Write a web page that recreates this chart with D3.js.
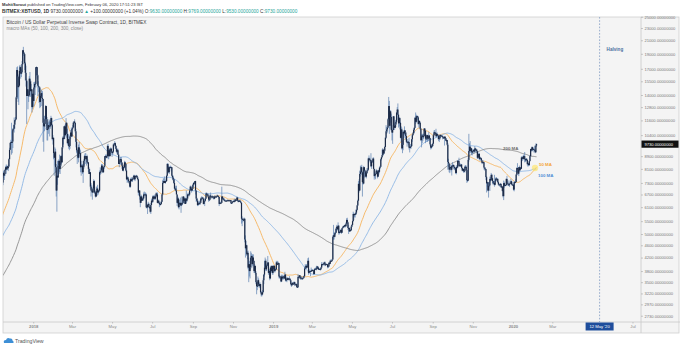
<!DOCTYPE html>
<html>
<head>
<meta charset="utf-8">
<script src="https://cdn.jsdelivr.net/npm/d3@7/dist/d3.min.js"></script>
<style>
  html, body { margin: 0; padding: 0; background: #ffffff; }
  svg { display: block; font-family: "Liberation Sans", Arial, sans-serif; }
</style>
</head>
<body>
<svg id="chart" width="680" height="346"></svg>
<script>
// BITMEX:XBTUSD daily closes, one per day starting 2017-05-01 (the earlier part seeds the moving averages)
const closeStart = Date.UTC(2017, 4, 1);
const closes = [
  // 2017 May
  1420,1450,1490,1520,1540,1570,1560,1700,1720,1760,1820,1690,1760,1780,1720,1740,1800,1890,1980,2050,2040,2150,2280,2440,2360,2140,2050,2190,2270,2200,2330,
  // Jun
  2420,2490,2520,2530,2700,2860,2690,2790,2810,2900,2970,2650,2710,2430,2440,2500,2650,2520,2590,2730,2640,2700,2700,2590,2580,2450,2560,2560,2540,2480,
  // Jul
  2430,2510,2570,2600,2600,2590,2500,2560,2500,2360,2330,2400,2360,2220,1930,1930,2230,2320,2270,2850,2670,2810,2740,2760,2580,2540,2700,2800,2700,2760,2870,
  // Aug
  2720,2710,2800,2880,3260,3220,3380,3420,3340,3420,3650,3860,4060,4330,4160,4380,4280,4110,4190,4090,4000,4090,4150,4330,4370,4350,4350,4380,4580,4580,4770,
  // Sep
  4950,4580,4600,4230,4380,4600,4600,4230,4230,4230,4160,4160,3880,3240,3700,3700,3690,4080,3900,3880,3630,3610,3790,3670,3930,3880,4210,4190,4170,4340,
  // Oct
  4400,4410,4310,4220,4320,4370,4430,4610,4780,4780,4830,5440,5640,5830,5690,5760,5600,5570,5710,6000,6010,5980,5900,5520,5750,5900,5780,5750,6150,6130,6470,
  // Nov
  6750,7030,7160,7380,7410,6990,7140,7460,7140,6620,6360,5950,6560,6630,7320,7870,7710,7790,8040,8200,8070,8250,8140,8250,8700,9330,9820,9890,9820,9920,
  // Dec
  10860,10910,11240,11620,11680,13750,16850,16050,14840,15000,16730,17200,16400,16570,17600,19500,19150,18950,17700,16500,15600,13900,14600,13900,13950,15800,15500,14400,14600,12800,14100,
  // 2018 Jan
  13400,14800,15200,15200,17200,17200,16200,15000,14900,14800,13300,13900,14200,13700,13600,11400,11100,11300,11700,12900,11700,10800,10900,11200,11100,11100,11500,11800,11200,10100,10200,
  // Feb
  9100,8800,9200,8200,6900,7700,7600,8300,8600,8100,8300,8900,8500,9500,10200,10100,11100,10400,11100,11400,10500,9800,10100,9600,9600,10300,10600,10300,
  // Mar
  10900,11000,11400,11500,11400,10700,9900,9300,9200,8800,9500,9100,9100,8200,8300,8300,7900,8200,8600,8900,8900,8700,8900,8500,8500,8100,7800,7900,7100,6900,6900,
  // Apr
  6800,7000,7400,6800,6800,6600,6900,7000,6800,6900,6900,7900,7900,8000,8300,8100,7900,8200,8300,8900,8900,8800,8900,9600,8900,9300,8900,9400,9400,9200,
  // May
  9100,9200,9700,9700,9800,9600,9400,9200,9300,9000,8400,8500,8700,8700,8500,8300,8000,8200,8200,8500,8400,8000,7500,7600,7500,7400,7300,7100,7500,7400,7500,
  // Jun
  7500,7600,7700,7500,7600,7700,7700,7600,7500,6800,6900,6600,6300,6600,6400,6500,6500,6700,6700,6700,6700,6100,6100,6200,6250,6100,6100,5900,6200,6400,
  // Jul
  6350,6600,6500,6600,6500,6600,6750,6700,6300,6400,6300,6250,6200,6250,6350,6700,7300,7400,7400,7300,7400,7400,7700,8400,8200,7900,8200,8200,8200,8200,7700,
  // Aug
  7600,7500,7300,7000,7000,6900,6700,6300,6500,6100,6300,6300,6200,6200,6300,6300,6600,6400,6500,6250,6500,6400,6500,6700,6700,6700,6900,7100,7000,6900,7000,
  // Sep
  7200,7300,7300,7400,6900,6500,6400,6200,6250,6300,6300,6300,6500,6500,6550,6500,6250,6350,6400,6500,6750,6700,6700,6600,6450,6450,6650,6600,6600,6600,
  // Oct
  6600,6550,6500,6600,6600,6580,6600,6650,6620,6580,6250,6300,6300,6300,6600,6500,6500,6450,6400,6400,6400,6400,6400,6420,6400,6400,6420,6420,6280,6290,6330,
  // Nov
  6380,6370,6350,6450,6400,6450,6550,6400,6350,6400,6400,6350,6300,5600,5600,5550,5550,5600,4800,4500,4600,4300,4350,3900,4000,3800,3900,4200,4250,4000,
  // Dec
  4200,4100,3800,3950,3750,3500,3400,3400,3550,3450,3400,3450,3250,3200,3200,3250,3550,3700,3900,4100,3850,3950,3970,4050,3750,3800,3600,3900,3800,3950,3750,
  // 2019 Jan
  3850,3950,3800,3850,3850,4050,4000,4000,4030,3650,3650,3630,3520,3650,3600,3630,3650,3600,3700,3550,3560,3600,3560,3600,3580,3590,3550,3450,3420,3480,3450,
  // Feb
  3460,3500,3440,3440,3450,3380,3370,3640,3640,3680,3600,3620,3600,3580,3600,3620,3660,3870,3900,3950,3900,3950,4100,3750,3800,3790,3800,3800,
  // Mar
  3830,3830,3800,3720,3850,3860,3870,3860,3930,3900,3850,3860,3850,3850,3900,4000,3980,4000,4020,4050,3970,3990,4000,3990,3920,3930,4040,4010,4100,4100,4100,
  // Apr
  4140,4900,4950,4900,5030,5050,5200,5280,5180,5320,5040,5080,5080,5150,5050,5220,5250,5300,5290,5340,5300,5400,5550,5450,5230,5230,5100,5150,5140,5280,
  // May
  5350,5500,5800,5750,5800,5780,5860,5980,6180,6400,7250,6900,7800,7950,8200,7900,7350,7270,8200,8000,7950,7650,7850,8000,8050,8750,8740,8660,8650,8260,8550,
  // Jun
  8550,8740,8100,7680,7800,7800,8000,7930,7650,8000,7930,8170,8230,8700,8830,8970,9340,9080,9270,9530,10200,10700,10850,11000,11700,12900,11150,12400,11900,10800,
  // Jul
  10600,10800,11950,11150,10980,11250,11480,12300,12570,12100,11350,11800,11380,10200,10850,9430,9680,10650,10530,10770,10600,10330,9900,9850,9900,9880,9480,9530,9520,9590,10090,
  // Aug
  10400,10530,10820,10980,11820,11480,11960,11960,11860,11300,11550,11400,10900,10020,10300,10370,10240,10320,10920,10760,10130,10130,10400,10140,10130,10370,10180,9720,9480,9580,9600,
  // Sep
  9760,10390,10620,10580,10580,10320,10480,10400,10330,10110,10150,10410,10360,10360,10310,10270,10190,10170,10280,10170,9980,10030,9690,8530,8430,8060,8190,8210,8050,8290,
  // Oct
  8300,8340,8230,8160,8150,7860,8210,8200,8590,8580,8270,8310,8280,8360,8160,8000,8090,7960,7970,8230,8220,8030,7450,7430,8660,9250,9550,9260,9430,9190,9150,
  // Nov
  9250,9310,9210,9420,9330,9340,9230,8800,8820,9050,8720,8800,8760,8630,8470,8500,8510,8180,8120,8090,7620,7280,7330,6900,7130,7170,7520,7440,7750,7560,
  // Dec
  7400,7300,7300,7200,7400,7540,7500,7520,7340,7220,7210,7200,7250,7070,7110,6880,6620,7290,7150,7190,7190,7520,7320,7260,7200,7200,7250,7310,7390,7220,7190,
  // 2020 Jan
  7200,6950,7340,7350,7350,7760,8150,8060,7820,8200,8020,8180,8110,8810,8820,8720,8900,8900,8700,8630,8720,8660,8390,8430,8330,8580,8900,9380,9290,9510,9350,
  // Feb
  9380,9330,9290,9160,9630,9730
];

// Daily highs and lows for the drawn candles (2017-11-10 .. 2020-02-06)
const highs = [
  7330,6880,6540,6740,6720,7330,7980,8000,7850,8110,8280,8370,8300,8260,8360,8760,9470,9850,10050,11400,10700,
  10950,11200,11850,11650,11900,13850,17200,17300,16300,15800,17400,17500,17300,16950,18000,19550,20000,19250,19000,17900,17400,15800,15500,14600,14400,16100,16600,15600,15200,14600,14200,
  14200,15400,15400,15500,17200,17300,17200,16300,15500,14900,14900,14100,14600,14500,14400,13600,11800,12000,12000,13000,12900,11900,11400,11500,11700,11600,11650,12000,11850,11300,10400,
  10200,9100,9500,9400,8400,7900,8600,8600,8700,9000,8500,8950,8950,9500,10300,10300,11100,11200,11300,11800,11400,10900,10400,10500,9800,10400,10800,11000,
  11000,11200,11500,11500,11700,11400,10900,10100,9400,9500,9700,9900,9400,9300,8400,8600,8400,8300,8700,9000,9100,9100,8900,9000,8700,8500,8200,8100,7900,7300,7200,
  7000,7100,7500,7450,6900,6850,7100,7100,7200,6900,6950,8000,8200,8150,8400,8400,8200,8200,8300,8900,9000,9000,9000,9700,9750,9300,9400,9450,9500,9450,
  9200,9250,9800,9750,9950,9850,9650,9450,9400,9400,9050,8600,8750,8850,8850,8500,8450,8250,8350,8600,8550,8450,8050,7700,7650,7600,7400,7400,7550,7600,7600,
  7550,7650,7750,7750,7650,7700,7750,7700,7650,7500,6900,6900,6600,6700,6650,6550,6600,6800,6850,6800,6800,6750,6200,6250,6350,6300,6170,6150,6300,6500,
  6450,6650,6650,6650,6700,6650,6800,6800,6800,6450,6450,6350,6350,6300,6400,6750,7450,7550,7550,7650,7450,7550,7750,8450,8450,8300,8250,8250,8300,8250,8200,
  7750,7700,7550,7500,7100,7150,7150,6700,6600,6550,6450,6450,6550,6250,6600,6450,6600,6600,6550,6550,6500,6900,6550,6750,6800,6750,6950,7150,7150,7050,7100,
  7250,7330,7350,7400,7420,6900,6550,6500,6400,6350,6400,6350,6550,6600,6600,6550,6550,6400,6500,6550,6800,6800,6750,6750,6600,6550,6700,6800,6620,6650,
  6650,6620,6560,6650,6650,6620,6620,6700,6660,6620,6580,6330,6330,6400,7100,6600,6550,6550,6450,6420,6450,6430,6420,6460,6440,6430,6440,6430,6430,6300,6350,
  6400,6450,6390,6500,6460,6470,6600,6560,6420,6420,6420,6420,6370,6300,5700,5600,5600,5650,5600,4950,4750,4620,4400,4420,4200,4100,3900,4400,4350,4300,
  4300,4300,4100,4000,3950,3800,3550,3500,3650,3600,3480,3500,3460,3280,3230,3300,3600,3720,4100,4200,4150,4000,4050,4250,4050,3850,3850,3950,3950,3950,3950,
  3880,3970,3960,3870,3900,4100,4080,4100,4070,4040,3700,3670,3650,3700,3680,3700,3670,3660,3780,3720,3580,3640,3620,3620,3600,3660,3600,3560,3460,3500,3500,
  3490,3520,3510,3460,3470,3460,3400,3720,3660,3690,3690,3640,3660,3610,3630,3650,3680,3930,4000,3980,4000,3980,4180,4200,3850,3820,3820,3900,
  3860,3850,3840,3820,3880,3890,3900,3950,3950,3940,3920,3880,3880,3890,3920,4060,4010,4050,4040,4070,4080,4010,4020,4010,4000,3950,4060,4050,4130,4140,4120,
  4160,4950,5350,5050,5080,5200,5250,5350,5290,5450,5330,5100,5120,5180,5180,5240,5280,5320,5330,5360,5350,5450,5620,5640,5480,5350,5250,5200,5190,5320,
  5380,5520,5900,5850,5820,5800,5990,6000,6200,6450,7400,7500,8000,8300,8250,8350,7950,7450,8280,8200,8050,8000,7900,8150,8150,8800,8950,8800,8700,9100,8600,
  8630,8800,8820,8110,7900,7870,8100,8030,7950,8050,8020,8230,8290,8750,8850,9350,9450,9350,9300,9580,10250,11200,11050,11100,11800,13800,13400,12500,12500,12200,
  11200,10900,11950,12000,11400,11650,11600,12320,12800,13150,12150,11900,11850,11450,11100,11000,9980,10750,10750,11100,10800,10650,10350,9950,10100,9950,10200,9600,9720,9750,10100,
  10500,10650,10920,11050,11900,12300,12100,12050,12000,11950,11600,11600,11450,10950,10450,10500,10500,10500,10950,10950,10780,10250,10450,10420,10350,10650,10380,10200,9730,9680,9700,
  9820,10450,10770,10800,10650,10900,10550,10600,10480,10390,10250,10460,10450,10420,10380,10370,10290,10280,10300,10300,10180,10080,10040,9800,8730,8470,8280,8330,8220,8340,
  8520,8380,8350,8240,8200,8180,8320,8300,8650,8650,8800,8440,8420,8400,8400,8170,8130,8120,8100,8300,8330,8300,8050,7500,8800,10500,9800,9950,9550,9450,9400,
  9300,9380,9380,9580,9470,9430,9380,9250,8900,9150,9100,8880,8830,8780,8670,8530,8620,8520,8190,8200,8100,7680,7370,7350,7350,7350,7650,7620,7860,7800,
  7560,7420,7400,7750,7480,7600,7620,7560,7550,7380,7270,7250,7300,7260,7160,7120,6900,7430,7370,7220,7200,7550,7690,7430,7280,7440,7280,7370,7520,7420,7330,
  7250,7220,7400,7400,7500,7800,8200,8450,8060,8200,8300,8190,8190,8880,8900,8850,9000,8990,9180,8740,8770,8780,8670,8500,8440,8600,8970,9400,9430,9560,9540,
  9450,9480,9620,9350,9780,9769
];
const lows = [
  6580,6180,5610,5840,6440,6620,7180,7570,7460,7680,7980,7810,8060,8040,7970,8200,8700,9330,9700,9000,9100,
  9450,10700,10600,10900,11500,11680,13750,13600,13300,13000,15000,16300,15800,16000,16400,17500,18700,17950,16850,15600,14900,11300,13900,12600,13300,13800,15000,13800,13950,12300,12600,
  12800,12900,14600,14000,14800,16200,15800,13900,14300,13200,12700,12800,13900,12900,13400,9900,9200,10700,11000,11600,11100,10000,10000,10500,10900,10300,10900,11400,11100,10000,9700,
  8700,7700,8300,7900,6600,5900,7200,7600,7800,7900,7800,8200,8400,8500,9400,9700,10100,10100,10300,11000,10200,9700,9600,9400,9300,9400,10100,10300,
  10250,10800,11000,11000,11300,10600,9500,9100,8400,8700,8500,8800,8900,7900,7700,7900,7800,7300,8100,8300,8800,8400,8300,8500,8400,7900,7800,7800,7000,6600,6800,
  6450,6800,7000,6750,6600,6550,6600,6900,6650,6700,6800,6850,7750,7800,8000,7900,7850,7900,8100,8200,8600,8750,8800,8900,8700,8700,8900,8900,9200,9100,
  8850,9000,9150,9550,9700,9400,9200,9100,9000,9000,8400,8200,8400,8350,8450,8100,8000,7950,8100,8150,8350,7950,7450,7300,7350,7350,7250,7050,7050,7350,7400,
  7350,7450,7600,7450,7400,7550,7650,7550,7450,6650,6700,6450,6100,6300,6400,6400,6450,6400,6650,6550,6650,6050,6050,5800,6150,6080,6020,5850,5800,6200,
  6300,6300,6480,6450,6450,6450,6550,6650,6300,6250,6300,6100,6150,6200,6250,6330,6650,7250,7300,7300,7250,7350,7400,7700,8100,7850,7800,8100,8150,7950,7650,
  7450,7450,7250,6950,6900,6850,6700,6150,6250,6050,6000,6200,6150,5850,6150,6200,6250,6300,6300,6250,6250,6300,6350,6450,6650,6600,6650,6900,6950,6800,6900,
  6980,7100,7200,7250,6700,6350,6350,6150,6150,6220,6200,6200,6300,6400,6500,6450,6220,6250,6150,6380,6480,6650,6650,6550,6350,6400,6420,6550,6500,6550,
  6520,6480,6450,6480,6550,6540,6550,6580,6580,6500,6150,6230,6280,6280,6300,6450,6450,6400,6380,6380,6390,6380,6380,6400,6390,6380,6400,6400,6250,6260,6270,
  6320,6360,6330,6340,6380,6390,6440,6380,6320,6340,6350,6330,6270,5400,5300,5450,5500,5530,4700,4200,4450,4250,4150,3850,3500,3650,3600,3850,4100,3900,
  3950,4050,3750,3750,3700,3450,3200,3300,3380,3400,3350,3380,3230,3150,3150,3180,3240,3450,3650,3850,3800,3800,3900,3950,3700,3700,3550,3580,3780,3750,3700,
  3700,3820,3770,3760,3820,3830,3980,3970,3980,3600,3600,3580,3500,3510,3560,3590,3570,3580,3600,3520,3520,3500,3550,3550,3550,3570,3520,3420,3380,3410,3430,
  3430,3450,3400,3420,3430,3360,3360,3360,3610,3620,3590,3560,3580,3560,3570,3600,3600,3650,3850,3870,3860,3900,3930,3700,3730,3760,3660,3780,
  3790,3800,3780,3690,3710,3830,3840,3820,3850,3870,3830,3830,3830,3820,3840,3890,3960,3950,3980,4000,3940,3960,3980,3970,3880,3900,3920,3990,4000,4080,4080,
  4080,4130,4800,4800,4880,4980,5040,5150,5130,5160,4980,4990,5050,5050,5000,5040,5200,5240,5230,5280,5250,5270,5380,5400,5150,5000,5080,5080,5100,5130,
  5260,5340,5480,5550,5660,5650,5760,5800,5950,6150,6380,6800,6900,7650,7850,7750,6600,7200,7250,7600,7800,7600,7550,7800,7950,8000,8600,8550,8450,8200,8100,
  8490,8530,8100,7480,7580,7500,7780,7850,7550,7620,7760,7850,8100,8210,8620,8800,8960,8950,9040,9220,9520,10100,10500,10600,10950,11650,10500,10900,11400,10700,
  10000,9750,10800,11050,10800,10950,11050,11350,12100,11650,11000,11100,10850,10150,9900,9350,9100,9300,10150,10400,10200,10050,9830,9550,9750,9650,9350,9150,9420,9400,9570,
  9900,10350,10500,10580,10950,11300,11400,11500,11650,11200,11000,11250,10800,9950,9500,9800,9950,10100,10300,10600,9800,9900,10050,9900,9950,10110,10050,9620,9350,9400,9480,
  9560,9750,10280,10400,10450,10200,10250,10300,10080,9960,9880,10050,10200,10300,10250,10080,10130,10140,9630,10050,9950,9880,9630,8050,8200,7900,7850,8050,7950,7710,
  8170,8200,8080,8020,8050,7800,7780,8120,8140,8460,8250,8260,8230,8230,8120,7950,7980,7870,7900,7880,8150,8010,7300,7350,7400,8550,9150,9150,9100,9000,8950,
  9050,9200,9100,9150,9200,9280,9120,8720,8770,8800,8650,8600,8700,8580,8390,8450,8430,8060,8000,8040,7450,6800,7100,6860,6550,7070,6880,7380,7420,7500,
  7250,7180,7250,7100,7170,7360,7480,7420,7300,7160,7170,7100,7180,7040,7030,6850,6560,6430,7050,7120,7130,7150,7270,7170,7130,7160,7080,7240,7290,7200,7150,
  7150,6900,6860,7260,7320,7340,7720,7870,7760,7680,7960,7970,8050,8100,8580,8620,8680,8820,8500,8520,8560,8600,8300,8230,8280,8290,8570,8880,9230,9210,9250,
  9300,9150,9230,9100,9150,9530
];

// Moving-average periods shown on the chart
const maPeriods = [50, 100, 200];
const maColors = ["#f6b35c", "#8cb6e4", "#8c8c8c"];

// Price-axis ticks (log scale) and time-axis ticks
const priceTicks = [25000, 23000, 21000, 19000, 17000, 15500, 14000, 12800, 11600, 10400, 8900, 8100, 7300, 6700, 6100, 5500, 5000, 4600, 4200, 3800, 3500, 3220, 2970, 2730];
const timeTicks = ["2018-01-01","2018-03-01","2018-05-01","2018-07-01","2018-09-01","2018-11-01","2019-01-01","2019-03-01","2019-05-01","2019-07-01","2019-09-01","2019-11-01","2020-01-01","2020-03-01","2020-07-01"];
const halvingDate = "2020-05-12";
const lastClose = 9730;

const W = 680, H = 346;
const plot = { left: 3, right: 641, top: 17, bottom: 322 };
const svg = d3.select("#chart");

const x = d3.scaleUtc()
  .domain([Date.UTC(2017, 10, 16), Date.UTC(2020, 6, 14)])
  .range([plot.left, plot.right]);
const y = d3.scaleLog()
  .domain([2606, 24950])
  .range([plot.bottom, plot.top]);

const dayOf = i => new Date(closeStart + i * 864e5);

// frame and panes
svg.append("rect").attr("x", 0).attr("y", 0).attr("width", W).attr("height", H).attr("fill", "#ffffff");
svg.append("rect").attr("x", plot.left).attr("y", plot.top).attr("width", W - plot.left - 1).attr("height", 333 - plot.top)
  .attr("fill", "#f4f4f4").attr("stroke", "#cfcfcf").attr("stroke-width", 0.8);
svg.append("line").attr("x1", plot.right).attr("x2", plot.right).attr("y1", plot.top).attr("y2", 333).attr("stroke", "#c9c9c9").attr("stroke-width", 0.8);
svg.append("line").attr("x1", plot.left).attr("x2", W).attr("y1", plot.bottom).attr("y2", plot.bottom).attr("stroke", "#c9c9c9").attr("stroke-width", 0.8);

svg.append("clipPath").attr("id", "plotclip").append("rect")
  .attr("x", plot.left).attr("y", plot.top).attr("width", plot.right - plot.left).attr("height", plot.bottom - plot.top);
const g = svg.append("g").attr("clip-path", "url(#plotclip)");

// halving marker
const hx = x(new Date(halvingDate));
g.append("line").attr("x1", hx).attr("x2", hx).attr("y1", plot.top).attr("y2", plot.bottom)
  .attr("stroke", "#8ea6c8").attr("stroke-width", 0.9).attr("stroke-dasharray", "1.6,1.6");
svg.append("text").attr("x", hx + 7).attr("y", 51).attr("font-size", 4.6).attr("font-weight", "bold")
  .attr("fill", "#4d6f9f").text("Halving");

// moving averages
function sma(values, n) {
  const out = [];
  let sum = 0;
  for (let i = 0; i < values.length; i++) {
    sum += values[i];
    if (i >= n) sum -= values[i - n];
    if (i >= n - 1) out.push({ i, v: sum / n });
  }
  return out;
}
const line = d3.line().x(d => x(dayOf(d.i))).y(d => y(d.v));
maPeriods.forEach((p, k) => {
  g.append("path").datum(sma(closes, p)).attr("d", line)
    .attr("fill", "none").attr("stroke", maColors[k]).attr("stroke-width", 0.9);
});

// candles (each session opens at the previous session's close)
const offset = closes.length - highs.length;
const candles = highs.map((h, j) => {
  const i = offset + j;
  return { date: dayOf(i), o: closes[i - 1], c: closes[i], h, l: lows[j] };
});
g.append("g").selectAll("line").data(candles).join("line")
  .attr("x1", d => x(d.date)).attr("x2", d => x(d.date))
  .attr("y1", d => y(Math.max(d.h, d.o, d.c))).attr("y2", d => y(Math.min(d.l, d.o, d.c)))
  .attr("stroke", "#5a7fb0").attr("stroke-width", 0.7);
g.append("g").selectAll("rect").data(candles).join("rect")
  .attr("x", d => x(d.date) - 0.6).attr("width", 1.2)
  .attr("y", d => y(Math.max(d.o, d.c)))
  .attr("height", d => Math.max(0.8, y(Math.min(d.o, d.c)) - y(Math.max(d.o, d.c))))
  .attr("fill", "#1b2945");

// MA labels
const lab = svg.append("g").attr("font-size", 4.4).attr("font-weight", "bold");
lab.append("text").attr("x", 503).attr("y", 150).attr("fill", "#6d6d6d").text("200 MA");
lab.append("text").attr("x", 539).attr("y", 166).attr("fill", "#f3a53a").text("50 MA");
lab.append("text").attr("x", 538).attr("y", 177).attr("fill", "#4f8fd6").text("100 MA");
svg.append("circle").attr("cx", 535).attr("cy", 168).attr("r", 3.2).attr("fill", "#ffe45c").attr("opacity", 0.6);

// price axis
const yAxis = d3.axisRight(y).tickValues(priceTicks).tickFormat(d => d.toFixed(8)).tickSize(2).tickPadding(1.5);
const ya = svg.append("g").attr("transform", `translate(${plot.right},0)`).call(yAxis);
ya.select(".domain").remove();
ya.selectAll("line").attr("stroke", "#9a9a9a").attr("stroke-width", 0.5);
ya.selectAll("text").attr("font-size", 4.1).attr("fill", "#7a7a7a").attr("font-family", "Liberation Sans, Arial, sans-serif");

// last price tag
const ly = y(lastClose);
svg.append("rect").attr("x", plot.right + 0.5).attr("y", ly - 3.6).attr("width", 37).attr("height", 7.2).attr("fill", "#111111");
svg.append("text").attr("x", plot.right + 3.5).attr("y", ly + 1.5).attr("font-size", 4.1).attr("fill", "#ffffff").text(lastClose.toFixed(8));

// time axis
const xAxis = d3.axisBottom(x).tickValues(timeTicks.map(s => new Date(s)))
  .tickFormat(d => d.getUTCMonth() === 0 ? d3.utcFormat("%Y")(d) : d3.utcFormat("%b")(d))
  .tickSize(1.5).tickPadding(1.5);
const xa = svg.append("g").attr("transform", `translate(0,${plot.bottom})`).call(xAxis);
xa.select(".domain").remove();
xa.selectAll("line").attr("stroke", "#9a9a9a").attr("stroke-width", 0.5);
xa.selectAll("text").attr("font-size", 4.2).attr("fill", "#8a8a8a")
  .attr("font-weight", d => d.getUTCMonth() === 0 ? "bold" : "normal")
  .attr("font-family", "Liberation Sans, Arial, sans-serif");

// halving date tag on the time axis
svg.append("rect").attr("x", hx - 14).attr("y", plot.bottom + 0.5).attr("width", 28).attr("height", 8).attr("fill", "#1f4e9c");
svg.append("text").attr("x", hx).attr("y", plot.bottom + 6).attr("text-anchor", "middle").attr("font-size", 4.2).attr("fill", "#ffffff").text("12 May '20");

// header
const hdr = svg.append("g").attr("fill", "#333");
const t1 = hdr.append("text").attr("x", 2).attr("y", 6.3).attr("font-size", 4.1);
t1.append("tspan").attr("font-weight", "bold").text("MohitSorout");
t1.append("tspan").text(" published on TradingView.com, February 06, 2020 17:51:23 IST");
const t2 = hdr.append("text").attr("x", 2).attr("y", 12.6).attr("font-size", 4.7);
t2.append("tspan").attr("font-weight", "bold").text("BITMEX:XBTUSD, 1D");
t2.append("tspan").text(" 9730.00000000 ");
t2.append("tspan").attr("fill", "#26a69a").text("▲");
t2.append("tspan").text(" +100.00000000 (+1.04%) O:");
t2.append("tspan").attr("fill", "#26a69a").text("9630.00000000");
t2.append("tspan").text(" H:");
t2.append("tspan").attr("fill", "#26a69a").text("9769.00000000");
t2.append("tspan").text(" L:");
t2.append("tspan").attr("fill", "#26a69a").text("9530.00000000");
t2.append("tspan").text(" C:");
t2.append("tspan").attr("fill", "#26a69a").text("9730.00000000");

svg.append("text").attr("x", 6.5).attr("y", 24.3).attr("font-size", 4.8).attr("fill", "#444")
  .text("Bitcoin / US Dollar Perpetual Inverse Swap Contract, 1D, BITMEX");
svg.append("text").attr("x", 6.5).attr("y", 30.3).attr("font-size", 4.6).attr("fill", "#8a8a8a")
  .text("macro MAs (50, 100, 200, 300, close)");

// footer logo
const logo = svg.append("g").attr("transform", "translate(3,337)");
logo.append("path").attr("d", "M1,6 Q0,3 3,3 Q4,0 7,1.5 Q9.5,1 9.5,3.5 Q11,4 10.5,6 Z").attr("fill", "#3d8fd6");
svg.append("text").attr("x", 15).attr("y", 343).attr("font-size", 5.2).attr("fill", "#555").text("TradingView");
</script>
</body>
</html>
